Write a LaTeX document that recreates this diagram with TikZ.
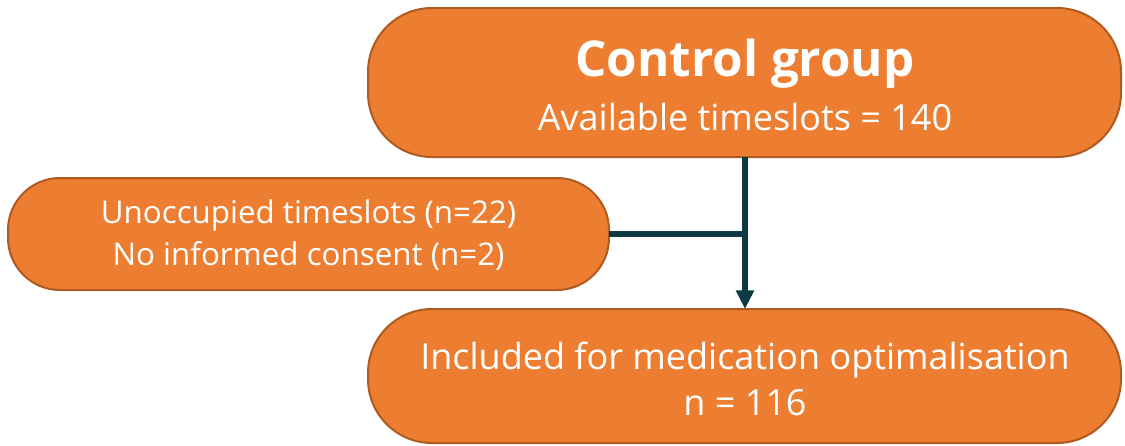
\documentclass[tikz,border=0pt]{standalone}
\usepackage{fontspec}
\setmainfont{Open Sans}
\usetikzlibrary{arrows.meta}
\definecolor{boxfill}{HTML}{ED7D31}
\definecolor{boxedge}{HTML}{AE5A21}
\definecolor{linecol}{HTML}{0E3A44}
\tikzset{
  pill/.style={draw=boxedge, fill=boxfill, line width=1.5pt, rounded corners=48pt},
  smallpill/.style={pill, rounded corners=39pt},
  txt/.style={text=white, align=center, inner sep=0pt},
  conn/.style={draw=linecol, line width=3.8pt},
}
\begin{document}
\begin{tikzpicture}[x=0.75pt,y=-0.75pt]
\useasboundingbox (0,0) rectangle (1125,446);
% boxes
\path[pill] (368,8) rectangle (1121,157);
\path[smallpill] (8,178) rectangle (609,290);
\path[pill] (368,309) rectangle (1121,443);
% texts
\node[txt, font=\fontsize{37pt}{44pt}\selectfont\bfseries] (top) at (745,64) {Control group};
\node[txt, font=\fontsize{27pt}{32pt}\selectfont] (topsub) at (745,117) {Available timeslots = 140};
\node[txt, font=\fontsize{23.5pt}{31pt}\selectfont] (left) at (308.5,235) {Unoccupied timeslots (n=22)\\No informed consent (n=2)};
\node[txt, font=\fontsize{27pt}{35pt}\selectfont] (bot) at (745,379) {Included for medication optimalisation\\n = 116};
% connectors
\coordinate (topB) at (745,157);
\coordinate (botT) at (745,309);
\coordinate (leftR) at (609,234);
\coordinate (junc) at (745,234);
\draw[conn, -{Triangle[length=14pt,width=13pt]}] (topB) -- (botT);
\draw[conn] (leftR) -- (junc);
\end{tikzpicture}
\end{document}
